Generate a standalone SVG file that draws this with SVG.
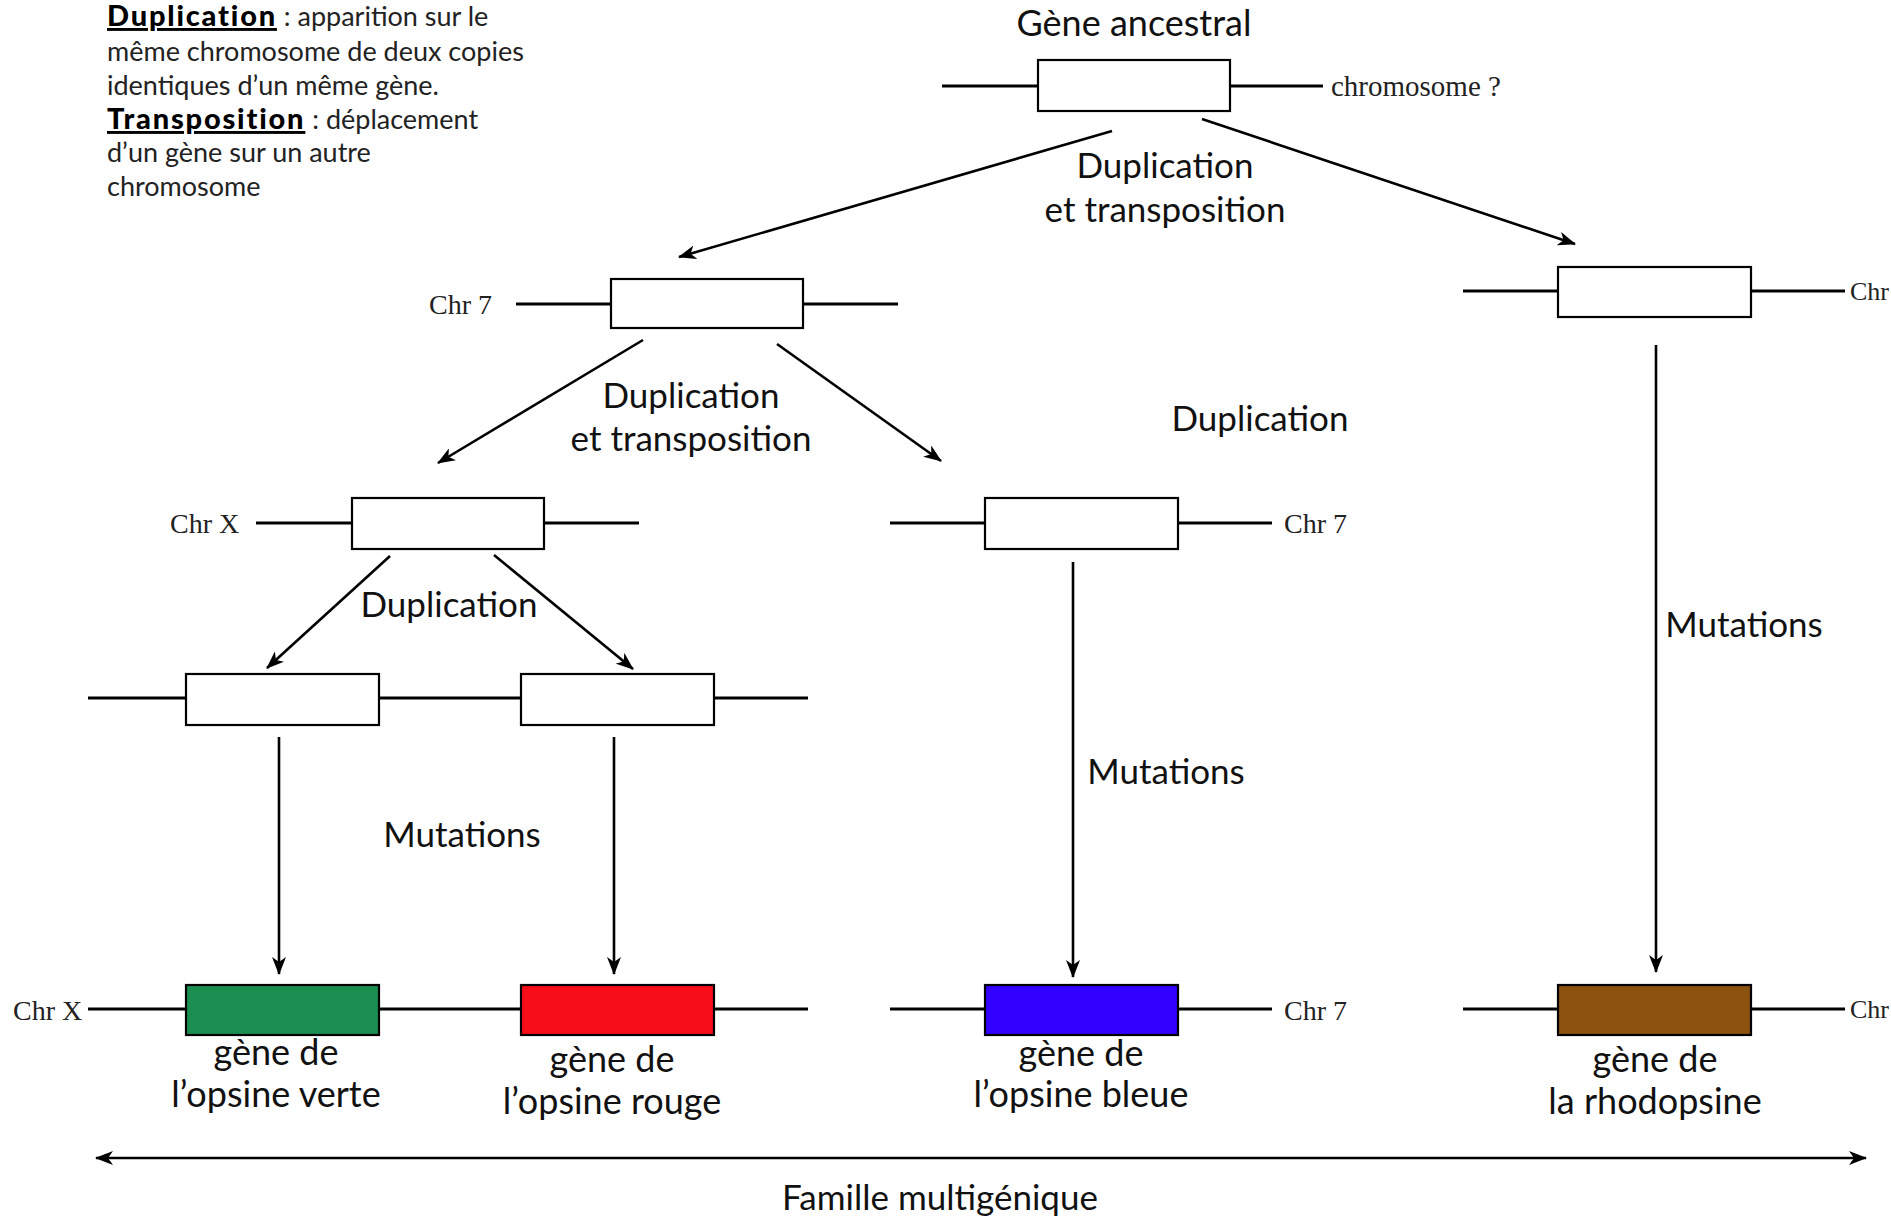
<svg xmlns="http://www.w3.org/2000/svg" width="1891" height="1221" viewBox="0 0 1891 1221">
<style>
.bg{fill:#fff}
.chr{stroke:#000;stroke-width:3;fill:none}
.gene{fill:#fff;stroke:#000;stroke-width:2.2}
.arr{stroke:#000;stroke-width:2.6;fill:none;marker-end:url(#ah)}
.lbl{font-family:Lato,"Open Sans",sans-serif;font-size:35px;fill:#111;text-anchor:middle}
.big{font-family:Lato,"Open Sans",sans-serif;font-size:36px;fill:#111;text-anchor:middle}
.chrt{font-family:"Liberation Serif",serif;font-size:28px;fill:#222}
.edge{font-size:26px}
.leg{font-family:Lato,"Open Sans",sans-serif;font-size:27px;fill:#222}
.legb{font-weight:900;font-size:29px;letter-spacing:1.8px;text-decoration:underline;fill:#000}
</style>
<defs>
<marker id="ah" viewBox="0 0 18 14" refX="17" refY="7" markerWidth="18" markerHeight="14" markerUnits="userSpaceOnUse" orient="auto">
<path d="M0,0 L18,7 L0,14 L5,7 z" fill="#000"/>
</marker>
<marker id="ahs" viewBox="0 0 18 14" refX="1" refY="7" markerWidth="18" markerHeight="14" markerUnits="userSpaceOnUse" orient="auto">
<path d="M18,0 L0,7 L18,14 L13,7 z" fill="#000"/>
</marker>
</defs>
<rect class="bg" x="0" y="0" width="1891" height="1221"/>

<g id="legend">
<text class="leg" x="107" y="26"><tspan class="legb">Duplication</tspan> : apparition sur le</text>
<text class="leg" x="107" y="61">même chromosome de deux copies</text>
<text class="leg" x="107" y="95">identiques d’un même gène.</text>
<text class="leg" x="107" y="129"><tspan class="legb">Transposition</tspan> : déplacement</text>
<text class="leg" x="107" y="162">d’un gène sur un autre</text>
<text class="leg" x="107" y="196">chromosome</text>
</g>

<g id="ancestral">
<text class="lbl" x="1134" y="36" style="font-size:36px">Gène ancestral</text>
<line class="chr" x1="942" y1="86" x2="1323" y2="86"/>
<rect class="gene" x="1038" y="60" width="192" height="51"/>
<text class="chrt" x="1331" y="96" style="font-size:29px">chromosome ?</text>
</g>

<g id="chr7-a">
<text class="chrt" x="429" y="314">Chr 7</text>
<line class="chr" x1="516" y1="304" x2="898" y2="304"/>
<rect class="gene" x="611" y="279" width="192" height="49"/>
</g>

<g id="chr-rhodo-a">
<line class="chr" x1="1463" y1="291" x2="1845" y2="291"/>
<rect class="gene" x="1558" y="267" width="193" height="50"/>
<text class="chrt edge" x="1850" y="300">Chr</text>
</g>

<g id="chrX-a">
<text class="chrt" x="170" y="533">Chr X</text>
<line class="chr" x1="256" y1="523" x2="639" y2="523"/>
<rect class="gene" x="352" y="498" width="192" height="51"/>
</g>

<g id="chr7-b">
<line class="chr" x1="890" y1="523" x2="1272" y2="523"/>
<rect class="gene" x="985" y="498" width="193" height="51"/>
<text class="chrt" x="1284" y="533">Chr 7</text>
</g>

<g id="chrX-b">
<line class="chr" x1="88" y1="698" x2="808" y2="698"/>
<rect class="gene" x="186" y="674" width="193" height="51"/>
<rect class="gene" x="521" y="674" width="193" height="51"/>
</g>

<g id="chrX-final">
<text class="chrt" x="13" y="1020">Chr X</text>
<line class="chr" x1="88" y1="1009" x2="808" y2="1009"/>
<rect class="gene" x="186" y="985" width="193" height="50" style="fill:#1b8f52"/>
<rect class="gene" x="521" y="985" width="193" height="50" style="fill:#f70c1a"/>
<text class="big" x="276" y="1065">gène de</text>
<text class="big" x="276" y="1107">l’opsine verte</text>
<text class="big" x="612" y="1072">gène de</text>
<text class="big" x="612" y="1114">l’opsine rouge</text>
</g>

<g id="chr7-final">
<line class="chr" x1="890" y1="1009" x2="1272" y2="1009"/>
<rect class="gene" x="985" y="985" width="193" height="50" style="fill:#3300ff"/>
<text class="chrt" x="1284" y="1020">Chr 7</text>
<text class="big" x="1081" y="1066">gène de</text>
<text class="big" x="1081" y="1107">l’opsine bleue</text>
</g>

<g id="rhodo-final">
<line class="chr" x1="1463" y1="1009" x2="1845" y2="1009"/>
<rect class="gene" x="1558" y="985" width="193" height="50" style="fill:#8b5210"/>
<text class="chrt edge" x="1850" y="1018">Chr</text>
<text class="big" x="1655" y="1072">gène de</text>
<text class="big" x="1655" y="1114">la rhodopsine</text>
</g>

<g id="connectors">
<line class="arr" x1="1112" y1="131" x2="679" y2="257"/>
<line class="arr" x1="1202" y1="119" x2="1575" y2="244"/>
<line class="arr" x1="643" y1="340" x2="438" y2="463"/>
<line class="arr" x1="777" y1="344" x2="941" y2="461"/>
<line class="arr" x1="390" y1="556" x2="267" y2="668"/>
<line class="arr" x1="494" y1="555" x2="633" y2="669"/>
<line class="arr" x1="279" y1="737" x2="279" y2="974"/>
<line class="arr" x1="614" y1="737" x2="614" y2="974"/>
<line class="arr" x1="1073" y1="562" x2="1073" y2="977"/>
<line class="arr" x1="1656" y1="345" x2="1656" y2="972"/>
<line class="arr" x1="96" y1="1158" x2="1866" y2="1158" style="marker-start:url(#ahs)"/>
</g>

<g id="labels">
<text class="lbl" x="1165" y="178">Duplication</text>
<text class="lbl" x="1165" y="222">et transposition</text>
<text class="lbl" x="691" y="408">Duplication</text>
<text class="lbl" x="691" y="451">et transposition</text>
<text class="lbl" x="1260" y="431">Duplication</text>
<text class="lbl" x="449" y="617">Duplication</text>
<text class="lbl" x="462" y="847">Mutations</text>
<text class="lbl" x="1166" y="784">Mutations</text>
<text class="lbl" x="1744" y="637">Mutations</text>
<text class="lbl" x="940" y="1210">Famille multigénique</text>
</g>
</svg>
